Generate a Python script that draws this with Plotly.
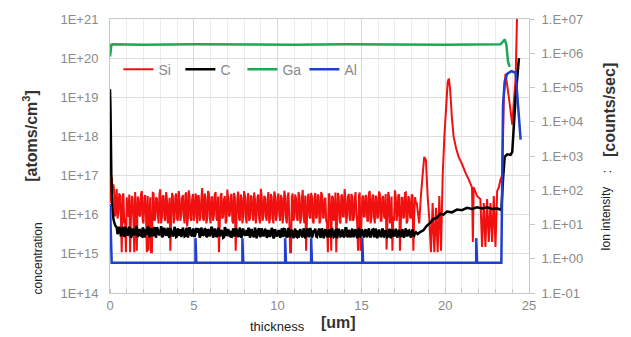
import plotly.graph_objects as go

# ---------------- data ----------------
# Si (left axis, atoms/cm3). Noisy plateau read on two interleaved 0.1 um grids
# (A starts at 0.20 um, B at 0.25 um); values in units of 1e15 atoms/cm3.
SI_HEAD_X = [0.0, 0.05, 0.1, 0.15]
SI_HEAD = [2e16, 6e16, 9e16, 4e16]
GRID_A_START = 0.2
GRID_B_START = 0.25
GRID_STEP = 0.1
SI_NOISE_A_E15 = [
    60, 9, 45, 12, 30, 1.1, 35, 8, 28, 10,
    1.1, 30, 7, 38, 1.2, 25, 9, 40, 6, 32,
    1.1, 1.2, 28, 1.1, 35, 8, 26, 6, 45, 9,
    30, 7, 24, 10, 1.2, 36, 6, 29, 8, 40,
    7, 27, 9, 33, 5, 42, 8, 25, 7, 35,
    6, 30, 9, 48, 7, 26, 8, 34, 6, 28,
    10, 38, 7, 1.1, 31, 8, 25, 6, 44, 9,
    29, 7, 36, 1.2, 27, 8, 33, 6, 40, 9,
    26, 7, 31, 10, 37, 6, 28, 8, 46, 7,
    30, 9, 25, 6, 34, 8, 39, 7, 27, 10,
    32, 6, 41, 8, 28, 7, 1.1, 35, 9, 26,
    7, 30, 8, 43, 6, 1.2, 29, 9, 36, 7,
    27, 8, 33, 6, 38, 9, 25, 7, 1.1, 31,
    1.2, 28, 8, 1.1, 36, 7, 30, 9, 45, 6,
    29, 8, 34, 7, 26, 10, 1.2, 37, 6, 31,
    9, 28, 7, 40, 8, 33, 6, 27, 9, 35,
    7, 30, 8, 1.3, 38, 6, 29, 9, 42, 7,
    31, 1.2, 27, 8, 36, 6, 30, 9, 33, 1.2,
    28,
]
SI_NOISE_B_E15 = [
    40, 15, 8, 35, 9, 30, 6, 1.1, 9, 33,
    8, 26, 1.1, 7, 29, 10, 34, 7, 27, 9,
    30, 8, 1.1, 36, 7, 28, 10, 33, 6, 31,
    8, 38, 6, 27, 9, 30, 8, 35, 7, 26,
    10, 32, 6, 37, 8, 29, 7, 34, 9, 27,
    31, 7, 26, 8, 35, 6, 40, 9, 28, 7,
    33, 8, 29, 6, 36, 9, 30, 7, 26, 10,
    34, 6, 28, 8, 39, 7, 27, 9, 31, 6,
    36, 8, 29, 7, 25, 10, 33, 6, 30, 9,
    27, 7, 38, 8, 28, 6, 32, 9, 35, 7,
    26, 10, 30, 6, 37, 1.1, 29, 7, 33, 8,
    38, 6, 27, 9, 31, 7, 34, 8, 28, 6,
    36, 9, 29, 7, 32, 8, 27, 6, 35, 9,
    30, 7, 37, 8, 28, 6, 33, 9, 26, 10,
    34, 7, 29, 8, 38, 6, 30, 1.2, 27, 9,
    32, 7, 36, 6, 28, 9, 31, 8, 39, 7,
    27, 9, 34, 6, 30, 8, 1.2, 7, 29, 10,
    33, 6, 28, 9, 37, 7, 26, 8, 31, 9,
    20,
]
SI_TAIL_X = [18.3, 18.45, 18.55, 18.65, 18.75, 18.85, 18.95, 19.05, 19.15, 19.25,
             19.35, 19.45, 19.55, 19.65, 19.75, 19.85, 19.95, 20.05, 20.15, 20.22,
             20.3, 20.4, 20.5, 20.65, 20.8, 21.0, 21.2, 21.4, 21.6, 21.65,
             21.7, 21.9, 22.1, 22.2, 22.3, 22.4, 22.5, 22.6, 22.7, 22.8,
             22.9, 23.0, 23.1, 23.2, 23.3, 23.4, 23.5, 23.6, 23.8, 24.0,
             24.2, 24.3]
SI_TAIL = [2e16, 6e15, 3e16, 1e17, 3e17, 2.5e17, 3e16, 8e15, 1.1e15, 2e16,
           1.1e15, 1.5e16, 1.1e15, 3e16, 1.2e15, 1e17, 1e18, 5e18, 2.5e19, 3e19,
           1.5e19, 3e18, 1e18, 5e17, 3e17, 2e17, 1.2e17, 8e16, 5e16, 2e15,
           5e16, 3e16, 2.5e16, 1.5e15, 2e16, 1.5e15, 2.5e16, 2e15, 2e16, 2e15,
           3e16, 1.5e15, 4e16, 5e16, 8e16, 1e17, 1e19, 4e19, 1e19, 2e18,
           3e19, 2e21]

# C (left axis), same two grids, units of 1e15
C_HEAD_X = [0.0, 0.03, 0.08, 0.12, 0.16]
C_HEAD = [1.6e19, 5e18, 1e17, 3e16, 1.2e16]
C_NOISE_A_E15 = [
    8, 5.5, 4.8, 3.6, 4.4, 3.2, 4.6, 3.0, 4.1, 3.4,
    4.5, 2.9, 3.8, 3.3, 4.7, 3.0, 3.9, 2.8, 4.3, 3.5,
    3.1, 4.6, 2.9, 3.7, 4.2, 3.0, 4.8, 3.3, 3.6, 2.8,
    4.4, 3.2, 3.9, 2.9, 4.5, 3.4, 3.0, 4.1, 2.8, 3.7,
    4.3, 3.1, 3.6, 2.9, 4.6, 3.3, 3.8, 2.8, 4.0, 3.2,
    3.5, 4.4, 2.9, 3.6, 3.1, 4.2, 2.8, 3.9, 3.3, 4.5,
    3.0, 3.7, 2.9, 4.1, 3.2, 3.6, 2.7, 4.3, 3.1, 3.5,
    3.9, 2.8, 3.4, 4.4, 3.0, 3.6, 2.8, 4.0, 3.2, 3.5,
    2.9, 4.2, 3.1, 3.4, 2.7, 3.8, 3.3, 4.5, 2.9, 3.5,
    3.1, 3.9, 2.8, 3.6, 3.2, 4.1, 2.7, 3.4, 3.0, 3.8,
    2.9, 3.5, 4.3, 3.0, 3.3, 2.7, 3.9, 3.1, 3.6, 2.8,
    4.0, 3.2, 3.4, 2.7, 3.7, 3.0, 4.2, 2.9, 3.5, 3.1,
    3.8, 2.8, 3.3, 4.4, 2.9, 3.6, 3.1, 3.4, 2.7, 3.9,
    3.0, 3.5, 2.8, 4.1, 3.2, 3.4, 2.9, 3.7, 3.0, 4.5,
    2.8, 3.3, 3.6, 2.9, 3.9, 3.1, 3.4, 2.7, 4.0, 3.2,
    3.5, 2.9, 3.8, 3.0, 3.3, 4.2, 2.8, 3.6, 3.1, 3.4,
    2.9, 3.9, 3.2, 3.5, 2.8, 4.1, 3.0, 3.4, 3.3, 2.9,
    3.7, 3.1, 3.4, 2.8, 3.6, 3.0, 3.9, 3.2, 3.5, 3.0,
    3.4,
]
C_NOISE_B_E15 = [
    6.5, 5.0, 3.2, 4.9, 2.8, 4.5, 2.7, 4.8, 2.9, 4.6,
    2.6, 4.4, 3.0, 5.0, 2.7, 4.3, 2.9, 4.7, 2.6, 4.2,
    4.9, 2.7, 4.5, 2.8, 4.8, 2.6, 4.2, 3.0, 5.1, 2.7,
    4.4, 2.9, 4.6, 2.6, 4.1, 2.8, 4.9, 2.7, 4.5, 2.9,
    2.7, 4.7, 2.8, 4.3, 2.6, 4.8, 3.0, 4.4, 2.7, 4.6,
    4.2, 2.6, 4.7, 2.9, 4.5, 2.7, 4.3, 2.8, 4.9, 2.6,
    4.4, 2.7, 4.6, 2.8, 4.1, 2.6, 4.8, 2.9, 4.3, 2.7,
    2.6, 4.5, 2.8, 4.2, 2.7, 4.7, 2.6, 4.4, 2.9, 4.0,
    4.6, 2.6, 4.3, 2.8, 4.7, 2.5, 4.2, 2.7, 4.5, 2.8,
    4.4, 2.6, 4.1, 2.7, 4.6, 2.5, 4.3, 2.8, 4.0, 2.6,
    4.5, 2.7, 4.2, 2.6, 4.6, 2.8, 4.1, 2.5, 4.4, 2.7,
    2.6, 4.3, 2.8, 4.5, 2.5, 4.2, 2.7, 4.6, 2.6, 4.0,
    4.4, 2.7, 4.1, 2.6, 4.5, 2.5, 4.3, 2.8, 4.2, 2.6,
    4.6, 2.7, 4.0, 2.5, 4.4, 2.8, 4.2, 2.6, 4.5, 2.7,
    4.1, 2.6, 4.4, 2.7, 4.2, 2.5, 4.6, 2.8, 4.0, 2.6,
    4.3, 2.7, 4.5, 2.6, 4.1, 2.8, 4.4, 2.5, 4.2, 2.7,
    4.5, 2.6, 4.0, 2.7, 4.3, 2.5, 4.2, 2.8, 4.4, 2.6,
    4.1, 2.7, 4.3, 2.6, 4.5, 2.8, 4.0, 2.6, 4.2, 2.9,
    3.6,
]
C_TAIL_X = [18.35, 18.5, 18.7, 18.9, 19.1, 19.3, 19.5, 19.7, 19.9, 20.1,
            20.4, 20.7, 21.0, 21.3, 21.6, 21.9, 22.2, 22.5, 22.8, 23.1,
            23.35, 23.45, 23.55, 23.7, 23.9, 24.0, 24.2, 24.4]
C_TAIL = [3.2e15, 3.6e15, 4.0e15, 5.2e15, 6.2e15, 7.8e15, 8.3e15, 1.05e16, 1.0e16, 1.2e16,
          1.15e16, 1.35e16, 1.3e16, 1.5e16, 1.4e16, 1.55e16, 1.45e16, 1.55e16, 1.4e16, 1.45e16,
          1.3e16, 8e16, 3e17, 3.5e17, 3.4e17, 4e17, 1e19, 1e20]

# Ga (left axis)
GA_X = [0.0, 0.03, 0.08, 0.15, 2, 5, 8, 11, 14, 17, 20, 23.3, 23.45, 23.55, 23.65, 23.75, 23.85]
GA = [1.1e20, 1.3e20, 2.2e20, 2.25e20, 2.2e20, 2.25e20, 2.2e20, 2.2e20, 2.25e20, 2.2e20,
      2.2e20, 2.25e20, 2.6e20, 3.0e20, 2.2e20, 8e19, 6e19]

# Al (right axis, counts/sec)
AL_X = [0.0, 0.1, 5.1, 5.1, 5.15, 7.9, 7.9, 7.95, 10.45, 10.45, 10.5, 12.0, 12.0, 12.05,
        15.05, 15.05, 15.1, 21.85, 21.85, 21.9, 23.35, 23.45, 23.55, 23.7, 23.95, 24.2, 24.5]
AL = [40, 0.77, 0.77, 4, 0.77, 0.77, 4, 0.77, 0.77, 4, 0.77, 0.77, 4, 0.77,
      0.77, 4, 0.77, 0.77, 4, 0.77, 0.77, 3e4, 1.5e5, 2.5e5, 3e5, 2.7e5, 3e3]

LEFT_TICKS = [1e14, 1e15, 1e16, 1e17, 1e18, 1e19, 1e20, 1e21]
LEFT_TICKTEXT = ["1E+14", "1E+15", "1E+16", "1E+17", "1E+18", "1E+19", "1E+20", "1E+21"]
RIGHT_TICKS = [1e-1, 1e0, 1e1, 1e2, 1e3, 1e4, 1e5, 1e6, 1e7]
RIGHT_TICKTEXT = ["1.E-01", "1.E+00", "1.E+01", "1.E+02", "1.E+03", "1.E+04", "1.E+05", "1.E+06", "1.E+07"]
X_TICKS = [0, 5, 10, 15, 20, 25]


# ---------------- build series ----------------
def interleave(a_vals, b_vals):
    xs, ys = [], []
    for i, (a, b) in enumerate(zip(a_vals, b_vals)):
        xs += [round(GRID_A_START + GRID_STEP * i, 3), round(GRID_B_START + GRID_STEP * i, 3)]
        ys += [a * 1e15, b * 1e15]
    return xs, ys


si_nx, si_ny = interleave(SI_NOISE_A_E15, SI_NOISE_B_E15)
c_nx, c_ny = interleave(C_NOISE_A_E15, C_NOISE_B_E15)
si_x = SI_HEAD_X + si_nx + SI_TAIL_X
si_y = SI_HEAD + si_ny + SI_TAIL
c_x = C_HEAD_X + c_nx + C_TAIL_X
c_y = C_HEAD + c_ny + C_TAIL

RED = "#f01010"
BLACK = "#000000"
GREEN = "#1fa656"
BLUE = "#1f3fcc"
FONT = "Liberation Sans, Arial, sans-serif"
TICKCOL = "#8a8a8a"

W, H = 631, 337
ML, MR, MT, MB = 110, 102, 16, 44

fig = go.Figure()
fig.add_trace(go.Scatter(x=si_x, y=si_y, name="Si", mode="lines",
                         line=dict(color=RED, width=2, simplify=False)))
fig.add_trace(go.Scatter(x=c_x, y=c_y, name="C", mode="lines",
                         line=dict(color=BLACK, width=2.5, simplify=False)))
fig.add_trace(go.Scatter(x=GA_X, y=GA, name="Ga", mode="lines",
                         line=dict(color=GREEN, width=2.5)))
fig.add_trace(go.Scatter(x=AL_X, y=AL, name="Al", mode="lines", yaxis="y2",
                         line=dict(color=BLUE, width=2.5, simplify=False)))

fig.update_layout(
    width=W, height=H,
    margin=dict(l=ML, r=MR, t=MT, b=MB),
    paper_bgcolor="white", plot_bgcolor="white",
    font=dict(family=FONT, color=TICKCOL, size=13),
    showlegend=True,
    legend=dict(orientation="h", x=0.02, y=0.815, xanchor="left", yanchor="middle",
                bgcolor="rgba(0,0,0,0)", font=dict(size=14, color="#8a8a8a"),
                entrywidth=17, entrywidthmode="pixels", traceorder="normal"),
    xaxis=dict(range=[0, 25], tickvals=X_TICKS, ticks="", showline=True, mirror=True,
               linecolor="#c8c8c8", linewidth=1, showgrid=True, gridcolor="#d8d8d8",
               zeroline=False, tickfont=dict(size=13, color=TICKCOL),
               minor=dict(dtick=1, showgrid=True, gridcolor="#ececec", ticks="inside",
                          ticklen=4, tickcolor="#c8c8c8")),
    yaxis=dict(type="log", range=[14, 21], tickvals=LEFT_TICKS, ticktext=LEFT_TICKTEXT,
               showline=True, mirror=True, linecolor="#c8c8c8", showgrid=True,
               gridcolor="#dedede", zeroline=False, ticks="", ticklabelstandoff=8,
               tickfont=dict(size=13, color=TICKCOL)),
    yaxis2=dict(type="log", range=[-1, 7], tickvals=RIGHT_TICKS, ticktext=RIGHT_TICKTEXT,
                overlaying="y", side="right", showgrid=False, zeroline=False,
                showline=True, linecolor="#c8c8c8", ticks="outside", ticklen=5,
                tickcolor="#c8c8c8", ticklabelstandoff=4,
                tickfont=dict(size=13, color=TICKCOL)),
)

annos = [
    dict(text="<b>[atoms/cm<sup>3</sup>]</b>", x=30, y=134, textangle=-90,
         font=dict(size=16, color="#333333")),
    dict(text="concentration", x=38, y=258, textangle=-90,
         font=dict(size=12, color="#222222")),
    dict(text="<b>[counts/sec]</b>", x=609, y=108, textangle=-90,
         font=dict(size=16, color="#333333")),
    dict(text=":", x=607, y=171, textangle=-90, font=dict(size=12, color="#222222")),
    dict(text="Ion intensity", x=606, y=218, textangle=-90,
         font=dict(size=12, color="#222222")),
    dict(text="thickness", x=277, y=327, font=dict(size=13, color="#222222")),
    dict(text="<b>[um]</b>", x=338, y=323, font=dict(size=16, color="#333333")),
]
for a in annos:
    fig.add_annotation(text=a["text"], xref="paper", yref="paper",
                       x=(a["x"] - ML) / (W - ML - MR),
                       y=(H - MB - a["y"]) / (H - MT - MB),
                       xanchor="center", yanchor="middle", showarrow=False,
                       textangle=a.get("textangle", 0), font=dict(family=FONT, **a["font"]))

fig.write_html("out.html", config={"displayModeBar": False},
               post_script="document.body.style.margin='0';")
